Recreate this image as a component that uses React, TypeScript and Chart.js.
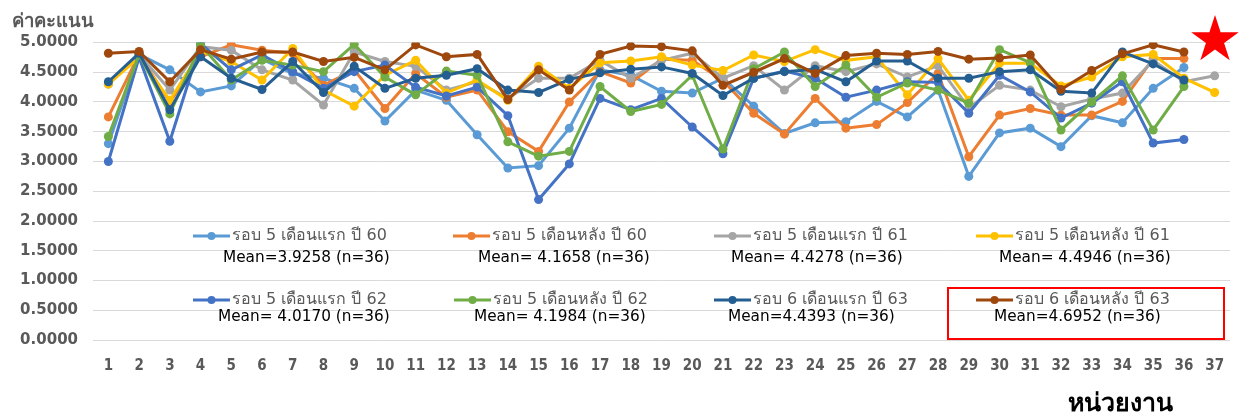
import React, { useEffect, useRef } from "react";
import { Chart, registerables } from "chart.js";

Chart.register(...registerables);

const CATEGORIES = Array.from({ length: 37 }, (_, i) => String(i + 1));

const SERIES_NAMES = [
  "รอบ 5 เดือนแรก ปี 60",
  "รอบ 5 เดือนหลัง ปี 60",
  "รอบ 5 เดือนแรก ปี 61",
  "รอบ 5 เดือนหลัง ปี 61",
  "รอบ 5 เดือนแรก ปี 62",
  "รอบ 5 เดือนหลัง ปี 62",
  "รอบ 6 เดือนแรก ปี 63",
  "รอบ 6 เดือนหลัง ปี 63",
];

const MEAN_LABELS = [
  "Mean=3.9258 (n=36)",
  "Mean= 4.1658 (n=36)",
  "Mean= 4.4278 (n=36)",
  "Mean= 4.4946 (n=36)",
  "Mean= 4.0170 (n=36)",
  "Mean= 4.1984 (n=36)",
  "Mean=4.4393 (n=36)",
  "Mean=4.6952 (n=36)",
];

const COLORS = ["#5B9BD5", "#ED7D31", "#A5A5A5", "#FFC000", "#4472C4", "#70AD47", "#255E91", "#9E480E"];

const S60A = [3.30, 4.80, 4.54, 4.17, 4.27, 4.72, 4.48, 4.40, 4.23, 3.68, 4.20, 4.03, 3.45, 2.89, 2.93, 3.56, 4.54, 4.45, 4.18, 4.15, 4.40, 3.93, 3.47, 3.65, 3.67, 4.01, 3.75, 4.20, 2.75, 3.48, 3.56, 3.25, 3.77, 3.65, 4.23, 4.58];
const S60B = [3.75, 4.80, 4.00, 4.76, 4.96, 4.87, 4.82, 4.28, 4.54, 3.89, 4.48, 4.08, 4.20, 3.50, 3.17, 4.00, 4.51, 4.32, 4.72, 4.70, 4.36, 3.81, 3.46, 4.06, 3.56, 3.62, 3.99, 4.48, 3.08, 3.78, 3.89, 3.78, 3.78, 4.01, 4.73, 4.73];
const S61A = [4.30, 4.80, 4.20, 4.93, 4.87, 4.54, 4.37, 3.95, 4.84, 4.68, 4.60, 4.20, 4.34, 4.06, 4.40, 4.40, 4.70, 4.40, 4.70, 4.82, 4.40, 4.61, 4.20, 4.61, 4.51, 4.64, 4.42, 4.61, 3.90, 4.28, 4.20, 3.92, 4.05, 4.15, 4.70, 4.34, 4.44];
const S61B = [4.30, 4.75, 4.03, 4.85, 4.68, 4.37, 4.90, 4.20, 3.93, 4.45, 4.70, 4.15, 4.37, 4.03, 4.60, 4.23, 4.66, 4.69, 4.76, 4.62, 4.53, 4.79, 4.68, 4.88, 4.70, 4.76, 4.12, 4.73, 4.03, 4.65, 4.65, 4.27, 4.42, 4.76, 4.80, 4.40, 4.16];
const S62A = [3.00, 4.75, 3.34, 4.98, 4.54, 4.79, 4.51, 4.23, 4.51, 4.62, 4.25, 4.10, 4.25, 3.77, 2.36, 2.96, 4.06, 3.87, 4.06, 3.58, 3.13, 4.40, 4.52, 4.40, 4.08, 4.20, 4.34, 4.33, 3.81, 4.45, 4.17, 3.73, 3.98, 4.34, 3.31, 3.37];
const S62B = [3.42, 4.80, 3.80, 4.96, 4.37, 4.70, 4.62, 4.51, 4.97, 4.42, 4.12, 4.52, 4.45, 3.33, 3.09, 3.17, 4.26, 3.84, 3.96, 4.45, 3.21, 4.56, 4.84, 4.26, 4.62, 4.08, 4.32, 4.20, 3.98, 4.88, 4.66, 3.53, 4.00, 4.44, 3.53, 4.26];
const S63A = [4.34, 4.82, 3.87, 4.76, 4.40, 4.21, 4.68, 4.16, 4.60, 4.23, 4.40, 4.45, 4.56, 4.20, 4.16, 4.38, 4.49, 4.55, 4.59, 4.48, 4.11, 4.40, 4.51, 4.55, 4.34, 4.69, 4.69, 4.40, 4.40, 4.51, 4.54, 4.18, 4.15, 4.84, 4.64, 4.37];
const S63B = [4.82, 4.85, 4.34, 4.88, 4.72, 4.84, 4.84, 4.68, 4.75, 4.54, 4.96, 4.76, 4.80, 4.04, 4.54, 4.20, 4.80, 4.94, 4.93, 4.86, 4.28, 4.50, 4.73, 4.48, 4.78, 4.82, 4.80, 4.85, 4.72, 4.74, 4.79, 4.21, 4.53, 4.81, 4.96, 4.84];

const SERIES = [S60A, S60B, S61A, S61B, S62A, S62B, S63A, S63B];

const Y_TITLE = "ค่าคะแนน";
const X_TITLE = "หน่วยงาน";

const FONT = "'DejaVu Sans', 'Noto Sans', sans-serif";
const FONT_COND = "'DejaVu Sans Condensed', 'DejaVu Sans', sans-serif";

// overlay layout: [legendLineX, legendY, meanX, meanY]
const LEGEND_POS = [
  [193, 236, 223, 258],
  [453, 236, 478, 258],
  [714, 236, 731, 258],
  [976, 236, 999, 258],
  [193, 300, 218, 317],
  [454, 300, 474, 317],
  [714, 300, 728, 317],
  [976, 300, 994, 317],
];

const overlayPlugin = {
  id: "overlay",
  afterDraw(chart: any) {
    const ctx = chart.ctx;
    ctx.save();
    // axis titles
    ctx.fillStyle = "#595959";
    ctx.font = `bold 18.5px ${FONT}`;
    ctx.textAlign = "left";
    ctx.textBaseline = "alphabetic";
    ctx.fillText(Y_TITLE, 12, 27);
    ctx.fillStyle = "#000000";
    ctx.font = `bold 25px ${FONT_COND}`;
    ctx.textAlign = "center";
    ctx.fillText(X_TITLE, 1120, 411);

    // legend + means
    for (let i = 0; i < SERIES_NAMES.length; i++) {
      const [lx, ly, mx, my] = LEGEND_POS[i];
      ctx.strokeStyle = COLORS[i];
      ctx.lineWidth = 3;
      ctx.beginPath();
      ctx.moveTo(lx, ly);
      ctx.lineTo(lx + 37, ly);
      ctx.stroke();
      ctx.fillStyle = COLORS[i];
      ctx.beginPath();
      ctx.arc(lx + 18.5, ly, 4, 0, Math.PI * 2);
      ctx.fill();
      ctx.fillStyle = "#595959";
      ctx.font = `16px ${FONT}`;
      ctx.textAlign = "left";
      ctx.textBaseline = "middle";
      ctx.fillText(SERIES_NAMES[i], lx + 39, ly);
      ctx.fillStyle = "#000000";
      ctx.font = `15.3px ${FONT}`;
      ctx.fillText(MEAN_LABELS[i], mx, my);
    }

    // red highlight box
    ctx.strokeStyle = "#FF0000";
    ctx.lineWidth = 2;
    ctx.strokeRect(948, 288, 276, 51);

    // red star
    const cx = 1215, cy = 40, R = 25, r = R * 0.382;
    ctx.fillStyle = "#FF0000";
    ctx.beginPath();
    for (let k = 0; k < 10; k++) {
      const rad = k % 2 === 0 ? R : r;
      const a = -Math.PI / 2 + (k * Math.PI) / 5;
      const px = cx + rad * Math.cos(a);
      const py = cy + rad * Math.sin(a);
      if (k === 0) ctx.moveTo(px, py);
      else ctx.lineTo(px, py);
    }
    ctx.closePath();
    ctx.fill();
    ctx.restore();
  },
};

export default function App() {
  const ref = useRef<HTMLCanvasElement | null>(null);

  useEffect(() => {
    if (!ref.current) return;
    const chart = new Chart(ref.current, {
      type: "line",
      data: {
        labels: CATEGORIES,
        datasets: SERIES.map((d, i) => ({
          label: SERIES_NAMES[i],
          data: d,
          borderColor: COLORS[i],
          backgroundColor: COLORS[i],
          borderWidth: 3,
          pointRadius: 4.5,
          pointBorderWidth: 0,
          pointBackgroundColor: COLORS[i],
          tension: 0,
          fill: false,
          order: SERIES.length - i,
        })),
      },
      options: {
        animation: false,
        responsive: false,
        devicePixelRatio: 1,
        layout: { padding: { top: 42.5, right: 11, left: 0, bottom: 0 } },
        plugins: {
          legend: { display: false },
          tooltip: { enabled: false },
          title: { display: false },
        },
        scales: {
          x: {
            type: "category",
            offset: true,
            grid: { display: false },
            border: { display: false },
            ticks: {
              font: { family: FONT_COND, size: 15, weight: "bold" },
              color: "#595959",
              padding: 9,
              maxRotation: 0,
              autoSkip: false,
            },
            afterFit: (s: any) => {
              s.height = 79;
            },
          },
          y: {
            min: 0,
            max: 5,
            ticks: {
              stepSize: 0.5,
              callback: (v: any) => Number(v).toFixed(4),
              font: { family: FONT, size: 15, weight: "bold" },
              color: "#595959",
              padding: 15,
            },
            grid: { color: "#D9D9D9", lineWidth: 1, drawTicks: false },
            border: { display: false },
            afterFit: (s: any) => {
              s.width = 93;
            },
          },
        },
      },
      plugins: [overlayPlugin],
    });
    return () => chart.destroy();
  }, []);

  return (
    <div style={{ position: "fixed", left: 0, top: 0, width: 1241, height: 419, background: "#fff" }}>
      <canvas ref={ref} width={1241} height={419} style={{ display: "block" }} />
    </div>
  );
}
